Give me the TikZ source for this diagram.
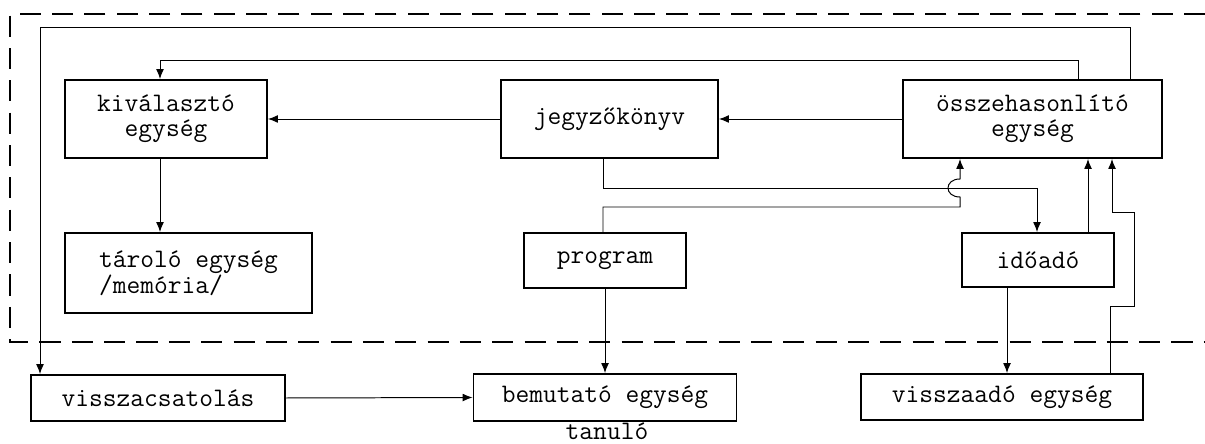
\documentclass[tikz,border=0pt]{standalone}
\usepackage{fontspec}
\usepackage{tikz}
\usetikzlibrary{arrows.meta,positioning}

\begin{document}
\begin{tikzpicture}[
    x=0.025cm, y=-0.025cm,
    box/.style={draw, line width=1.3pt, align=center, inner sep=0pt,
                font=\fontsize{19}{17.5}\selectfont\ttfamily},
    arr/.style={-{Latex[length=7pt,width=5.5pt]}, line width=0.7pt},
    frame/.style={line width=1pt, dash pattern=on 15pt off 8pt}
  ]
  \useasboundingbox (0,0) rectangle (1205,444);
  % gep hatara
  \draw[frame] (1205,14) -- (10,14) -- (10,342) -- (1205,342);
  % felso sor
  \node[box, minimum width=5.05cm, minimum height=1.95cm] (kiv) at (166,119) {kiválasztó\\egység};
  \node[box, minimum width=5.425cm, minimum height=1.95cm] (jegy) at (609.5,119) {jegyzőkönyv};
  \node[box, minimum width=6.475cm, minimum height=1.95cm] (ossz) at (1032.5,119) {összehasonlító\\egység};
  % kozepso sor
  \node[box, align=left, minimum width=6.175cm, minimum height=2cm] (taro) at (188.5,273) {tároló egység\\/memória/};
  \node[box, minimum width=4.05cm, minimum height=1.375cm] (prog) at (605,260.5) {program};
  \node[box, minimum width=3.8cm, minimum height=1.35cm] (ido) at (1038,260) {időadó};
  % also sor
  \node[box, minimum width=6.35cm, minimum height=1.15cm] (vcs) at (158,398) {visszacsatolás};
  \node[box, minimum width=6.575cm, minimum height=1.175cm] (bem) at (605,397.5) {bemutató egység};
  \node[box, minimum width=7.05cm, minimum height=1.15cm] (vad) at (1002,397) {visszaadó egység};
  \node[inner sep=0pt, font=\fontsize{19}{17.5}\selectfont\ttfamily] (tanulo) at (607,431) {tanuló};

  \draw[arr] (ossz.north -| 1130,0) |- (40,27) -- (vcs.north -| 40,0);
  \draw[arr] (ossz.north -| 1078,0) |- (160,60) -- (kiv.north -| 160,0);
  \draw[arr] (jegy.west) -- (kiv.east);
  \draw[arr] (ossz.west) -- (jegy.east);
  \draw[arr] (kiv.south -| 160,0) -- (taro.north -| 160,0);
  \draw[arr] (jegy.south -| 603,0) |- (1037,188) -- (ido.north -| 1037,0);
  \draw[arr] (prog.north -| 603,0) |- (960,207) -- (960,197)
    .. controls (944,197) and (944,179) .. (960,179) -- (ossz.south -| 960,0);
  \draw[arr] (ido.north -| 1088,0) -- (ossz.south -| 1088,0);
  \draw[arr] (ido.south -| 1007,0) -- (vad.north -| 1007,0);
  \draw[arr] (vad.north -| 1110,0) -- (1110,306) -| (1134,212) -| (ossz.south -| 1112,0);
  \draw[arr] (prog) -- (bem);
  \draw[arr] (vcs.east) -- (bem.west);
\end{tikzpicture}
\end{document}
